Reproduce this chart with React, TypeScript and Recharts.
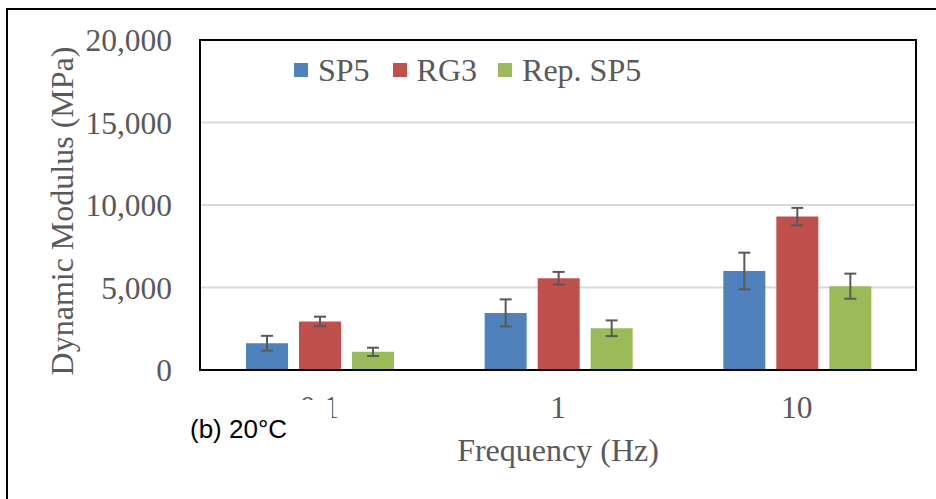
import React from 'react';
import {
  BarChart,
  Bar,
  XAxis,
  YAxis,
  CartesianGrid,
  Legend,
  ErrorBar,
  Label,
  ReferenceArea,
} from 'recharts';

const frequencies = ['0.1', '1', '10'];
const sp5 = [1620, 3460, 6000];
const rg3 = [2940, 5560, 9300];
const repSp5 = [1100, 2530, 5080];
const sp5Err = [450, 820, 1110];
const rg3Err = [290, 385, 525];
const repSp5Err = [250, 475, 760];
const yTicks = [0, 5000, 10000, 15000, 20000];

const SERIES = [
  { key: 'sp5', err: 'sp5Err', name: 'SP5', color: '#4F81BD', gap: 23 },
  { key: 'rg3', err: 'rg3Err', name: 'RG3', color: '#C0504D', gap: 21 },
  { key: 'repSp5', err: 'repSp5Err', name: 'Rep. SP5', color: '#9BBB59', gap: 0 },
];

const FONT = '"Liberation Serif", "Times New Roman", serif';
const GREY = '#595959';

const data = frequencies.map((f, i) => ({
  freq: f,
  sp5: sp5[i],
  rg3: rg3[i],
  repSp5: repSp5[i],
  sp5Err: sp5Err[i],
  rg3Err: rg3Err[i],
  repSp5Err: repSp5Err[i],
}));

const renderLegend = () => (
  <div style={{ display: 'flex', alignItems: 'center', height: 30 }}>
    {SERIES.map(s => (
      <div key={s.key} style={{ display: 'flex', alignItems: 'center', marginRight: s.gap }}>
        <span style={{ width: 14, height: 14, background: s.color, display: 'inline-block', marginRight: 10 }} />
        <span style={{ fontFamily: FONT, fontSize: 32, color: GREY, lineHeight: '30px' }}>{s.name}</span>
      </div>
    ))}
  </div>
);

const YTitle = (props: any) => {
  const vb = props.viewBox || { y: 40, height: 330 };
  const cx = 62;
  const cy = vb.y + vb.height / 2 + 6;
  return (
    <text
      x={cx}
      y={cy}
      transform={`rotate(-90, ${cx}, ${cy})`}
      textAnchor="middle"
      dominantBaseline="central"
      fill={GREY}
      fontFamily={FONT}
      fontSize={32}
    >
      Dynamic Modulus (MPa)
    </text>
  );
};

export default function App() {
  return (
    <div style={{ position: 'absolute', left: 0, top: 0, width: 936, height: 499, overflow: 'hidden', background: '#fff' }}>
      <div
        style={{
          position: 'absolute',
          left: 6,
          top: 8,
          width: 960,
          height: 520,
          borderLeft: '2px solid #000',
          borderTop: '2px solid #000',
        }}
      />
      <BarChart
        width={936}
        height={499}
        data={data}
        margin={{ top: 40, right: 20, left: 0, bottom: 0 }}
        barGap={11}
        barCategoryGap={46}
      >
        <CartesianGrid vertical={false} stroke="#D9D9D9" strokeWidth={2} />
        <XAxis
          dataKey="freq"
          height={99}
          axisLine={{ stroke: '#000', strokeWidth: 2 }}
          tickLine={false}
          tickSize={0}
          tickMargin={26}
          tick={{ fill: GREY, fontFamily: FONT, fontSize: 31.5 }}
        >
          <Label value="Frequency (Hz)" position="insideBottom" offset={8} fill={GREY} fontFamily={FONT} fontSize={32} />
        </XAxis>
        <YAxis
          width={200}
          domain={[0, 20000]}
          ticks={yTicks}
          axisLine={{ stroke: '#000', strokeWidth: 2 }}
          tickLine={false}
          tickSize={0}
          tickMargin={28}
          tick={{ fill: GREY, fontFamily: FONT, fontSize: 31.5 }}
          tickFormatter={(v: number) => v.toLocaleString('en-US')}
          label={<YTitle />}
        />
        <ReferenceArea y1={0} y2={20000} fill="none" stroke="#000" strokeWidth={2} ifOverflow="visible" />
        <Legend
          content={renderLegend}
          wrapperStyle={{ position: 'absolute', top: 55, left: 294, width: 'auto' }}
        />
        {SERIES.map(s => (
          <Bar key={s.key} dataKey={s.key} name={s.name} fill={s.color} isAnimationActive={false}>
            <ErrorBar dataKey={s.err} width={6} stroke={GREY} strokeWidth={2} direction="y" />
          </Bar>
        ))}
      </BarChart>
      <div
        style={{
          position: 'absolute',
          left: 182,
          top: 400,
          width: 150,
          height: 50,
          background: '#fff',
          fontFamily: '"Liberation Sans", Arial, sans-serif',
          fontSize: 26,
          color: '#000',
        }}
      >
        <span style={{ position: 'absolute', left: 8, top: 14, lineHeight: '30px' }}>(b) 20°C</span>
      </div>
    </div>
  );
}
